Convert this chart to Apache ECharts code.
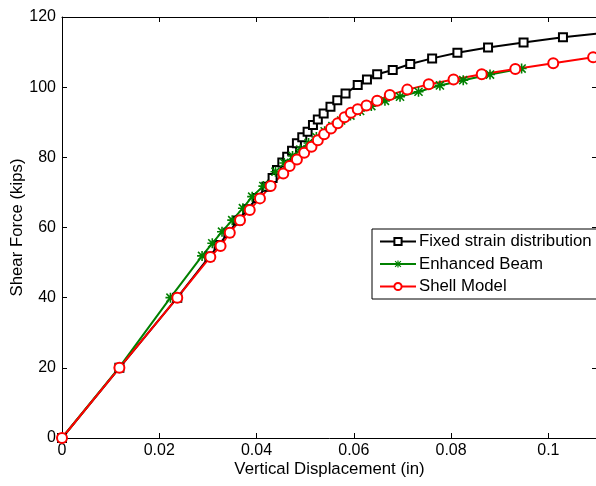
<!DOCTYPE html>
<html>
<head>
<meta charset="utf-8">
<script src="https://cdn.jsdelivr.net/npm/echarts@6/dist/echarts.min.js"></script>
<style>
  html, body { margin: 0; padding: 0; background: #fff; }
  #main { width: 596px; height: 486px; }
</style>
</head>
<body>
<div id="main"></div>
<script>
// values: [displacement (in), shear force (kips)]
const fixedStrain = [
    [0, 0], [0.0118, 20], [0.0237, 40], [0.0303, 51.7], [0.0322, 55], [0.0342, 58.5],
    [0.0362, 62], [0.0381, 65.2], [0.0401, 68.4], [0.0420, 71.6], [0.0433, 74.1],
    [0.0442, 76.4], [0.0453, 78.5], [0.0463, 80.2], [0.0473, 81.9], [0.0483, 84.0],
    [0.0494, 85.7], [0.0505, 87.3], [0.0516, 89.2], [0.0526, 90.8], [0.0538, 92.5],
    [0.0552, 94.4], [0.0566, 96.3], [0.0583, 98.2], [0.0608, 100.6], [0.0627, 102.2],
    [0.0648, 103.7], [0.0680, 104.9], [0.0716, 106.6], [0.0761, 108.2], [0.0813, 109.8],
    [0.0876, 111.3], [0.0949, 112.7], [0.1030, 114.2], [0.1115, 115.5]
];
const enhancedBeam = [
    [0, 0], [0.0117, 20], [0.0223, 40], [0.0288, 51.9], [0.0309, 55.5], [0.0329, 58.8],
    [0.0350, 62.1], [0.0372, 65.5], [0.0391, 68.8], [0.0414, 71.8], [0.0439, 75.9],
    [0.0457, 78.4], [0.0474, 80.4], [0.0490, 82.2], [0.0507, 84.1], [0.0523, 85.8],
    [0.0540, 87.4], [0.0556, 88.9], [0.0574, 90.5], [0.0593, 91.9], [0.0613, 93.2],
    [0.0636, 94.6], [0.0664, 96.1], [0.0695, 97.3], [0.0733, 98.7], [0.0777, 100.5],
    [0.0825, 102.0], [0.0880, 103.6], [0.0945, 105.3]
];
const shellModel = [
    [0, 0], [0.0118, 20], [0.0237, 40], [0.0305, 51.6], [0.0326, 54.7], [0.0345, 58.5],
    [0.0366, 62.1], [0.0386, 65.0], [0.0407, 68.3], [0.0429, 71.8], [0.0455, 75.4],
    [0.0468, 77.5], [0.0483, 79.4], [0.0498, 81.3], [0.0513, 83.0], [0.0526, 84.9],
    [0.0539, 86.6], [0.0553, 88.2], [0.0567, 89.7], [0.0581, 91.4], [0.0594, 92.7],
    [0.0608, 93.7], [0.0626, 94.8], [0.0648, 96.1], [0.0674, 97.8], [0.0710, 99.3],
    [0.0754, 100.8], [0.0805, 102.2], [0.0863, 103.7], [0.0932, 105.2], [0.1010, 106.8],
    [0.1092, 108.5]
];
const seriesNames = ['Fixed strain distribution', 'Enhanced Beam', 'Shell Model'];

const asterisk = 'path://M0 4.2H10V5.8H0Z M4.2 0H5.8V10H4.2Z M1.5 0.4L9.6 8.5L8.5 9.6L0.4 1.5Z M8.5 0.4L9.6 1.5L1.5 9.6L0.4 8.5Z';
const font = 'Liberation Sans';
const fs = 16;
const fsText = 16.8;

const chart = echarts.init(document.getElementById('main'));

let boxAxis = (pos) => ({
    position: pos,
    axisLine: { show: true, onZero: false, lineStyle: { color: '#000', width: 1 } },
    axisTick: { show: true, inside: true, length: 5, lineStyle: { color: '#000' } },
    axisLabel: { show: false },
    splitLine: { show: false }
});

let option = {
    animation: false,
    backgroundColor: '#fff',
    textStyle: { fontFamily: font },
    grid: { left: 62, right: -1, top: 17, bottom: 48, containLabel: false, outerBoundsMode: 'none' },
    legend: {
        data: seriesNames,
        orient: 'vertical',
        left: 372,
        top: 229,
        padding: [4, 20, 4, 7],
        itemGap: 5.5,
        itemWidth: 36,
        itemHeight: 9,
        borderColor: '#000',
        borderWidth: 1,
        backgroundColor: '#fff',
        textStyle: { fontFamily: font, fontSize: fsText, color: '#000', padding: [0, 0, 0, -2] }
    },
    xAxis: [
        {
            type: 'value', min: 0, max: 0.11, interval: 0.02,
            name: 'Vertical Displacement (in)', nameLocation: 'middle', nameGap: 23,
            nameMoveOverlap: false,
            nameTextStyle: { fontFamily: font, fontSize: fsText, color: '#000' },
            axisLine: { onZero: false, lineStyle: { color: '#000', width: 1 } },
            axisTick: { inside: true, length: 5, lineStyle: { color: '#000' } },
            axisLabel: { fontFamily: font, fontSize: fs, color: '#000', margin: 5, showMaxLabel: false },
            splitLine: { show: false }
        },
        Object.assign({ type: 'value', min: 0, max: 0.11, interval: 0.02 }, boxAxis('top'))
    ],
    yAxis: [
        {
            type: 'value', min: 0, max: 120, interval: 20,
            name: 'Shear Force (kips)', nameLocation: 'middle', nameGap: 36,
            nameMoveOverlap: false,
            nameTextStyle: { fontFamily: font, fontSize: fsText, color: '#000' },
            axisLine: { show: true, onZero: false, lineStyle: { color: '#000', width: 1 } },
            axisTick: { show: true, inside: true, length: 5, lineStyle: { color: '#000' } },
            axisLabel: { fontFamily: font, fontSize: fs, color: '#000', margin: 6 },
            splitLine: { show: false }
        },
        Object.assign({ type: 'value', min: 0, max: 120, interval: 20 }, boxAxis('right'))
    ],
    series: [
        {
            name: seriesNames[0], type: 'line', data: fixedStrain, clip: true,
            symbol: 'emptyRect', symbolSize: 8,
            lineStyle: { color: '#000', width: 2 },
            itemStyle: { color: '#000', borderWidth: 1.6 }
        },
        {
            name: seriesNames[1], type: 'line', data: enhancedBeam, clip: true,
            symbol: asterisk, symbolSize: 10,
            lineStyle: { color: '#008000', width: 2 },
            itemStyle: { color: '#008000' }
        },
        {
            name: seriesNames[2], type: 'line', data: shellModel, clip: true,
            symbol: 'emptyCircle', symbolSize: 10,
            lineStyle: { color: '#ff0000', width: 2 },
            itemStyle: { color: '#ff0000', borderWidth: 2 }
        }
    ]
};

chart.setOption(option);
window.addEventListener('resize', () => {
    chart.resize()
});
</script>
</body>
</html>
